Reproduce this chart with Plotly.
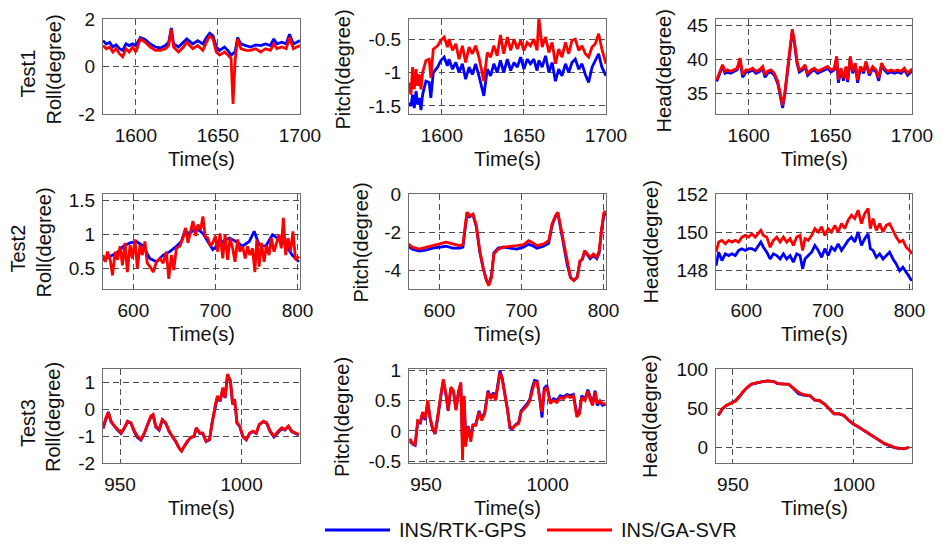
import plotly.graph_objects as go

# ---------------- data ----------------
# Test1 Roll
t1_roll_time = [1580,1582,1584,1586,1588,1590,1592,1594,1596,1598,1600,1602.7,1605.8,1608.8,1612,1615,1618,1620,1621.6,1623,1626,1629,1631,1634.7,1637.7,1640.8,1643,1645,1647,1649,1651,1654,1656,1658,1659.2,1660.5,1662,1664,1667,1670,1673,1676,1679,1682,1684,1686,1689,1691.6,1693.6,1696,1698,1700]
t1_roll_gps = [1.09,0.95,1.02,0.82,0.91,0.75,0.68,0.95,0.88,0.95,0.88,1.22,1.13,0.95,0.82,0.78,0.88,1.02,1.62,0.95,0.82,1.02,1.16,0.95,1.09,0.95,1.22,1.40,1.29,0.82,0.68,0.82,0.68,0.48,0.55,0.62,1.22,0.95,0.88,0.82,0.91,0.88,0.95,0.88,1.16,0.95,1.02,0.95,1.36,0.95,1.02,1.09]
t1_roll_svr = [0.88,0.75,0.82,0.61,0.75,0.54,0.41,0.75,0.61,0.82,0.61,1.16,1.02,0.82,0.68,0.68,0.75,0.88,1.56,0.82,0.61,0.82,1.02,0.75,0.88,0.68,1.02,1.29,1.16,0.61,0.48,0.61,0.48,0.34,-1.58,0.27,1.16,0.75,0.68,0.68,0.75,0.61,0.75,0.68,0.95,0.75,0.82,0.75,1.22,0.75,0.82,0.88]

# Test1 Pitch
t1_pitch_time = [1580,1581.2,1582.2,1583.2,1584.3,1585.3,1586.3,1587.3,1588.3,1590.3,1592.3,1593.3,1594.8,1597.4,1599.4,1601.4,1603.4,1604.4,1606.5,1608.5,1610.5,1612.5,1614.5,1616.6,1618.6,1620.6,1622.6,1625.6,1627.7,1629.7,1631.7,1633.7,1635.7,1637.7,1639.9,1641.9,1644,1646,1648,1650,1652,1654,1656,1658,1659.1,1661.1,1663.2,1665.2,1667.2,1669.2,1671.2,1673.2,1675.3,1677.3,1679.3,1681.3,1683.4,1685.4,1687.4,1689.4,1691.5,1693.5,1695.5,1697.5,1700]
t1_pitch_gps = [-1.45,-1.5,-1.33,-1.53,-1.28,-1.48,-1.38,-1.56,-1.33,-1.13,-1.15,-1.38,-1.0,-0.92,-0.82,-0.77,-0.9,-0.8,-0.95,-0.85,-1.0,-0.87,-1.1,-0.92,-1.03,-0.87,-1.05,-1.35,-0.95,-1.05,-0.87,-1.0,-0.82,-1.0,-0.8,-0.97,-0.85,-0.92,-0.77,-0.95,-0.8,-0.87,-0.8,-0.97,-0.82,-0.92,-0.75,-1.0,-0.85,-1.13,-0.95,-1.05,-0.87,-1.0,-0.85,-0.8,-0.95,-0.87,-1.03,-1.15,-0.92,-0.82,-0.72,-0.92,-1.05]
t1_pitch_svr = [-1.15,-1.33,-0.92,-1.25,-0.95,-1.2,-1.03,-1.25,-1.0,-0.82,-0.8,-1.08,-0.65,-0.6,-0.52,-0.47,-0.62,-0.5,-0.67,-0.57,-0.8,-0.6,-0.85,-0.62,-0.72,-0.6,-0.77,-1.13,-0.7,-0.77,-0.6,-0.75,-0.44,-0.72,-0.47,-0.67,-0.5,-0.65,-0.52,-0.67,-0.55,-0.6,-0.5,-0.67,-0.18,-0.62,-0.47,-0.7,-0.55,-0.87,-0.65,-0.77,-0.55,-0.72,-0.52,-0.5,-0.67,-0.6,-0.72,-0.77,-0.62,-0.57,-0.42,-0.65,-0.87]

# Test1 Head
t1_head_time = [1580.4,1582,1584,1585.5,1587,1589,1591,1593,1594.7,1596.3,1598.4,1600.4,1602.4,1604.5,1606.5,1608.6,1610,1611.6,1613.7,1615.7,1617.8,1619.4,1620.8,1622.2,1623.9,1625.5,1626.7,1628,1629.6,1631,1633,1634.5,1636.1,1638.2,1640.2,1642.2,1644.3,1646.3,1648.4,1650.4,1652.4,1653.9,1654.9,1656.5,1658,1659.6,1660.6,1662.2,1663.7,1665.3,1666.7,1668.4,1670.4,1671.8,1673.9,1675.9,1678,1679.6,1681.4,1683,1685.1,1687.1,1689.2,1691.2,1693.3,1695.3,1697.3,1699.4,1700]
t1_head_gps = [36.8,37.8,39.0,38.0,38.2,38.0,38.2,38.5,40.0,37.4,38.2,38.2,38.5,38.0,38.2,38.7,37.4,38.0,38.2,37.7,36.5,34.5,32.9,35.0,38.5,42.0,44.2,42.5,39.5,38.2,38.5,39.0,37.7,38.2,38.5,38.0,38.2,38.5,38.7,38.2,38.5,40.2,36.6,38.5,36.9,38.7,36.7,40.2,38.0,39.2,36.6,38.7,38.0,39.5,37.7,38.7,38.2,36.9,39.2,38.5,38.0,38.2,38.0,38.2,38.0,38.5,37.7,38.2,38.0]
t1_head_svr = [37.0,38.0,39.25,38.3,38.5,38.3,38.5,38.75,40.25,37.8,38.5,38.5,38.75,38.3,38.5,39.0,37.8,38.3,38.5,38.0,36.8,34.8,33.3,35.3,38.75,42.2,44.5,42.7,39.75,38.5,38.75,39.25,38.0,38.5,38.75,38.3,38.5,38.75,39.0,38.5,38.75,40.5,37.0,38.75,37.3,39.0,37.0,40.5,38.3,39.5,37.0,39.0,38.3,39.75,38.0,39.0,38.5,37.3,39.5,38.75,38.3,38.5,38.3,38.5,38.3,38.75,38.0,38.5,38.3]

# Test2 Roll
t2_roll_time_gps = [563,571.8,579.8,587.9,596,604,612,620,628.2,636.3,644.4,652.4,658.5,662.5,668.5,676.6,684.7,690.7,696.8,702.8,708.9,717,725,733,741.1,747.2,753.2,761.3,769.4,777.4,785.5,793.5,801.6]
t2_roll_gps = [0.63,0.68,0.73,0.83,0.88,0.9,0.83,0.65,0.6,0.7,0.75,0.83,0.9,1.05,1.02,1.1,1.02,0.9,0.78,0.85,0.9,0.95,0.9,0.83,0.9,1.05,0.85,0.83,1.0,0.93,0.85,0.7,0.6]
t2_roll_time_svr = [563,565.8,568.6,571.8,574.6,577.8,580.6,583.9,586.7,589.9,592.7,596,598.8,602,604.8,608.1,610.9,614.1,616.9,620.2,624.2,628.2,632.3,636.3,640.3,643.1,646.4,649.2,652.4,656.5,660.5,663.7,666.5,669.8,672.6,675.8,678.6,681.9,684.7,687.5,690.7,694,696.8,700,702.8,705.6,708.9,711.7,714.9,717.7,721,723.8,727,729.8,733.1,736.3,739.1,741.9,745.2,748,750.4,753.2,756,759.3,762.1,765.3,768.1,771.4,774.2,777.4,780.2,782.7,785.5,788.3,791.5,794.4,797.6,801.6]
t2_roll_svr = [0.7,0.6,0.75,0.63,0.4,0.75,0.63,0.83,0.55,0.88,0.45,0.85,0.65,0.93,0.5,0.85,0.7,0.9,0.58,0.53,0.45,0.6,0.65,0.58,0.75,0.35,0.7,0.48,0.8,0.83,0.95,1.1,0.88,1.05,1.2,0.98,1.15,1.07,1.27,0.98,0.95,0.83,0.88,0.98,0.75,1.02,0.65,1.0,0.63,0.95,0.8,0.6,0.93,0.75,0.83,0.65,0.83,0.7,0.8,0.45,0.93,0.53,0.88,0.6,0.85,0.7,0.95,0.75,0.88,1.0,0.8,1.25,0.7,0.95,0.75,1.05,0.63,0.68]

# Test2 Pitch
t2_pitch_time = [562,567.2,575.4,583.6,591.8,600,608.2,616.4,624.6,628.7,631.6,633.6,636.9,641,645.1,649.2,653.3,657.4,660.2,663.5,666.4,671.7,677.9,686.1,694.3,702.5,708.6,712.7,718.9,727,733.2,737.3,741.4,744.3,747.5,751.6,755.7,759.8,763.9,768,771.3,774.2,777,780.3,783.6,787.7,791.8,794.7,797.5,800,802]
t2_pitch_gps = [-2.75,-2.9,-3.0,-2.95,-2.85,-2.8,-2.75,-2.85,-2.85,-2.8,-1.8,-1.05,-1.2,-1.1,-1.75,-3.05,-3.9,-4.55,-4.75,-4.3,-3.1,-2.85,-2.8,-2.85,-2.9,-2.8,-2.65,-2.7,-2.85,-2.75,-2.6,-1.65,-1.2,-1.0,-1.75,-2.7,-3.7,-4.4,-4.55,-4.35,-3.55,-3.45,-3.0,-3.2,-3.4,-3.25,-3.4,-3.1,-1.9,-1.25,-1.0]
t2_pitch_svr = [-2.63,-2.8,-2.9,-2.8,-2.72,-2.63,-2.54,-2.63,-2.72,-2.67,-1.67,-0.96,-1.14,-1.05,-1.67,-2.98,-3.86,-4.56,-4.82,-4.39,-3.16,-2.9,-2.8,-2.77,-2.72,-2.67,-2.46,-2.54,-2.72,-2.63,-2.46,-1.58,-1.14,-0.96,-1.67,-2.63,-3.68,-4.39,-4.56,-4.39,-3.51,-3.42,-2.98,-3.16,-3.33,-3.16,-3.33,-2.98,-1.75,-1.05,-0.88]

# Test2 Head
t2_head_time = [563,566.3,570.3,574.4,578.5,582.5,586.6,590.7,594.7,598.8,602.8,606.9,611,615,617.9,621.1,625.2,629.3,633.3,637.4,641.5,645.5,649.6,653.7,657.7,661.8,665.9,669.1,672,676,680.1,684.1,688.2,692.3,696.3,700.4,704.5,708.5,712.6,716.7,720.7,724.8,728.9,732.9,737,741.1,745.1,749.2,752,755.3,759.3,763.4,767.5,771.5,775.6,779.7,783.7,787.8,791.9,795.9,800,802.8]
t2_head_gps = [148.23,148.94,148.5,148.85,148.76,148.85,148.76,149.03,149.12,149.03,149.12,149.12,149.03,149.29,149.47,149.2,148.94,148.58,148.85,148.76,148.58,148.85,148.58,148.76,148.41,148.85,148.76,148.05,148.58,148.76,148.94,149.29,149.03,148.67,149.12,148.76,149.2,149.03,149.38,149.03,149.29,149.56,149.73,149.47,150.0,149.29,149.65,149.91,149.12,149.03,148.67,148.85,148.58,148.76,148.94,148.58,148.32,147.96,148.14,147.88,147.61,147.43]
t2_head_svr = [148.94,149.47,149.56,149.38,149.56,149.47,149.56,149.47,149.73,149.82,149.73,149.91,149.73,149.91,150.09,149.82,149.73,149.2,149.56,149.73,149.47,149.73,149.47,149.65,149.29,149.73,149.82,149.03,149.65,149.56,149.82,150.18,150.0,150.27,149.82,150.18,150.0,150.35,150.0,150.44,150.18,150.62,150.88,150.71,151.15,150.44,150.97,151.24,150.18,150.71,150.09,150.44,150.0,150.35,150.44,150.09,149.73,149.47,149.56,149.2,149.03,148.85]

# Test3 Roll
t3_roll_time = [943,944.2,945.2,946.3,947.7,949,950.4,951.8,953.1,954.5,955.9,957.2,958.6,960,961.3,962.7,963.6,964.7,966.1,967.4,968.8,970.2,971.5,972.9,974.3,975.3,976.3,977.6,979,980.4,981.4,982.7,984,985.4,986.8,987.8,989.2,990.1,991.2,992.3,993.2,994.2,995.4,996.3,997.1,998.1,999.2,1000.5,1001.9,1003.3,1004.6,1006,1007.3,1009,1010.3,1011.7,1013.3,1015.1,1016.5,1017.8,1019.2,1020.6,1021.9,1023.5]
t3_roll_gps = [-0.72,-0.36,-0.1,-0.47,-0.64,-0.77,-0.9,-0.7,-0.46,-0.52,-0.84,-1.05,-1.15,-0.9,-0.58,-0.28,-0.22,-0.66,-0.78,-0.4,-0.53,-0.83,-1.02,-1.2,-1.45,-1.55,-1.4,-1.22,-1.05,-1.02,-0.7,-0.9,-0.9,-1.2,-1.14,-0.52,0.17,0.48,0.3,0.78,0.42,1.28,1.04,0.18,0.36,-0.52,-0.64,-1.02,-1.14,-0.9,-0.83,-0.9,-0.56,-0.46,-0.52,-0.83,-1.03,-0.84,-0.72,-0.77,-0.64,-0.83,-0.9,-0.96]
t3_roll_svr = [-0.69,-0.31,-0.12,-0.44,-0.62,-0.75,-0.88,-0.69,-0.44,-0.5,-0.81,-1.0,-1.12,-0.88,-0.56,-0.25,-0.19,-0.62,-0.75,-0.38,-0.5,-0.81,-1.0,-1.19,-1.44,-1.56,-1.38,-1.19,-1.06,-1.0,-0.69,-0.88,-0.88,-1.19,-1.12,-0.5,0.19,0.5,0.31,0.81,0.44,1.31,1.06,0.19,0.38,-0.5,-0.62,-1.0,-1.12,-0.88,-0.81,-0.88,-0.56,-0.44,-0.5,-0.81,-1.0,-0.81,-0.69,-0.75,-0.62,-0.81,-0.88,-0.94]

# Test3 Pitch
t3_pitch_time = [943.4,944.5,945.5,946.6,947.7,948.6,949.6,950.7,951.6,952.7,953.7,954.8,956.1,957.1,958.2,959.1,960.2,961.3,962.3,963.4,964.3,965,965.7,966.3,967.3,968.4,969.3,970.4,971.8,972.9,974.1,975.5,976.6,977.7,978.6,979.6,980.4,981.3,982.4,983.4,984.5,985.4,986.8,988.1,989.1,990.2,991.6,992.7,993.6,994.6,995.7,996.7,997.7,998.6,999.7,1001.1,1002.4,1003.8,1005.2,1006.5,1007.9,1009.3,1010.6,1012,1013.1,1014,1015.4,1016.5,1017.4,1018.5,1019.5,1020.4,1021.5,1022.6,1023.8]
t3_pitch_gps = [-0.17,-0.22,-0.24,0.15,0.13,0.3,0.18,0.47,0.22,0.03,-0.05,0.2,0.58,0.82,0.6,0.33,0.7,0.65,0.36,0.66,0.78,-0.2,0.5,-0.1,0.08,-0.1,0.1,0.1,0.33,0.2,0.3,0.66,0.55,0.63,0.52,0.8,0.99,0.88,0.63,0.38,0.05,0.03,0.1,0.14,0.33,0.38,0.45,0.52,0.7,0.83,0.82,0.55,0.22,0.7,0.75,0.48,0.53,0.5,0.58,0.56,0.6,0.58,0.6,0.28,0.32,0.58,0.52,0.68,0.56,0.45,0.66,0.42,0.48,0.42,0.44]
t3_pitch_svr = [-0.13,-0.21,-0.23,0.17,0.15,0.31,0.2,0.5,0.23,0.04,-0.04,0.23,0.61,0.85,0.61,0.34,0.72,0.66,0.34,0.64,0.8,-0.48,0.58,-0.26,0.07,-0.18,0.09,0.09,0.31,0.17,0.28,0.64,0.53,0.61,0.5,0.77,0.96,0.85,0.61,0.36,0.07,0.04,0.09,0.12,0.31,0.36,0.42,0.5,0.66,0.8,0.8,0.58,0.31,0.66,0.72,0.45,0.5,0.47,0.55,0.53,0.58,0.55,0.58,0.23,0.28,0.55,0.5,0.66,0.53,0.42,0.64,0.45,0.5,0.45,0.45]

# Test3 Head
t3_head_time = [943.9,945.6,947.2,949,951,952.5,953.9,955.6,957.6,959.7,961.7,964.3,967,968.4,971,973,975,977.1,979.1,981.8,983.8,985.8,987.8,989.8,991.8,993.8,995.8,997.9,1000,1001.9,1004.6,1007.3,1010,1012.6,1014.6,1016.7,1018.7,1020.7,1022.7]
t3_head_gps = [40.5,49.0,53.2,56.0,59.5,64.5,70.0,75.5,80.5,82.2,83.5,84.8,84.0,81.3,80.5,80.5,75.2,68.5,66.8,65.8,60.3,59.5,55.3,49.0,42.7,42.7,40.6,34.3,29.2,25.9,20.8,15.3,9.9,4.5,2.0,-0.5,-1.4,-1.8,-0.2]
t3_head_svr = [40.8,49.2,53.4,56.3,58.8,63.9,70.2,75.6,80.7,82.4,83.6,84.9,84.0,81.5,80.7,80.7,75.6,70.2,67.2,66.0,60.5,59.7,55.5,49.2,42.9,42.9,40.8,34.5,29.4,26.1,21.0,15.5,10.1,5.0,2.9,0,-1.3,-1.7,0]

# tick values / labels
x_ticks_t1 = [1600, 1650, 1700]
x_ticks_t2 = [600, 700, 800]
x_ticks_t3 = [950, 1000]
y_ticks = {
    "roll1": ([-2, 0, 2], ["-2", "0", "2"]),
    "pitch1": ([-1.5, -1, -0.5], ["-1.5", "-1", "-0.5"]),
    "head1": ([35, 40, 45], ["35", "40", "45"]),
    "roll2": ([0.5, 1, 1.5], ["0.5", "1", "1.5"]),
    "pitch2": ([-4, -2, 0], ["-4", "-2", "0"]),
    "head2": ([148, 150, 152], ["148", "150", "152"]),
    "roll3": ([-2, -1, 0, 1], ["-2", "-1", "0", "1"]),
    "pitch3": ([-0.5, 0, 0.5, 1], ["-0.5", "0", "0.5", "1"]),
    "head3": ([0, 50, 100], ["0", "50", "100"]),
}
series_names = ["INS/RTK-GPS", "INS/GA-SVR"]
series_colors = ["#0000ff", "#ff0000"]
row_labels = ["Test1", "Test2", "Test3"]
col_labels = ["Roll(degree)", "Pitch(degree)", "Head(degree)"]
x_label = "Time(s)"

# ---------------- layout geometry ----------------
# The page body adds an 8px offset; the figure is sized so the visible
# 942x552 window matches the target layout.
OFF = 8
W, H = 942 - 2 * OFF, 552 - 2 * OFF


def px(xp):
    return (xp - OFF) / W


def py(yp):
    return 1 - (yp - OFF) / H


col_px = [(103, 300), (409, 606), (716, 912)]
row_px = [(19, 114), (194, 289), (369, 463)]

panels = [
    (0, 0, t1_roll_time, t1_roll_gps, t1_roll_time, t1_roll_svr, [1580, 1700], [-2, 2], x_ticks_t1, "roll1"),
    (0, 1, t1_pitch_time, t1_pitch_gps, t1_pitch_time, t1_pitch_svr, [1580, 1700], [-1.62, -0.2], x_ticks_t1, "pitch1"),
    (0, 2, t1_head_time, t1_head_gps, t1_head_time, t1_head_svr, [1580, 1700], [32, 46], x_ticks_t1, "head1"),
    (1, 0, t2_roll_time_gps, t2_roll_gps, t2_roll_time_svr, t2_roll_svr, [563, 803], [0.2, 1.6], x_ticks_t2, "roll2"),
    (1, 1, t2_pitch_time, t2_pitch_gps, t2_pitch_time, t2_pitch_svr, [563, 803], [-5, 0], x_ticks_t2, "pitch2"),
    (1, 2, t2_head_time, t2_head_gps, t2_head_time, t2_head_svr, [563, 803], [147, 152], x_ticks_t2, "head2"),
    (2, 0, t3_roll_time, t3_roll_gps, t3_roll_time, t3_roll_svr, [943, 1024], [-2, 1.5], x_ticks_t3, "roll3"),
    (2, 1, t3_pitch_time, t3_pitch_gps, t3_pitch_time, t3_pitch_svr, [943, 1024], [-0.53, 1.02], x_ticks_t3, "pitch3"),
    (2, 2, t3_head_time, t3_head_gps, t3_head_time, t3_head_svr, [943, 1024], [-20, 100], x_ticks_t3, "head3"),
]

FONT = "Liberation Sans, Arial, sans-serif"
fig = go.Figure()
layout = {}
for i, (r, c, tg, g, ts, s, xr, yr, xt, yk) in enumerate(panels):
    n = i + 1
    xa = "x" if n == 1 else f"x{n}"
    ya = "y" if n == 1 else f"y{n}"
    fig.add_trace(go.Scatter(x=tg, y=g, mode="lines", name=series_names[0],
                             line=dict(color=series_colors[0], width=2.8),
                             xaxis=xa, yaxis=ya, showlegend=False))
    fig.add_trace(go.Scatter(x=ts, y=s, mode="lines", name=series_names[1],
                             line=dict(color=series_colors[1], width=2.8),
                             xaxis=xa, yaxis=ya, showlegend=False))
    x0, x1 = col_px[c]
    y0, y1 = row_px[r]
    common = dict(showline=True, mirror=True, linecolor="#6e6e6e", linewidth=1,
                  showgrid=True, gridcolor="#4d4d4d", griddash="6px,4px", gridwidth=1,
                  zeroline=False, ticks="", automargin=False,
                  tickfont=dict(family=FONT, size=19, color="#111"))
    layout["xaxis" if n == 1 else f"xaxis{n}"] = dict(
        common, domain=[px(x0), px(x1)], range=xr, anchor=ya,
        tickmode="array", tickvals=xt, ticktext=[str(v) for v in xt], ticklabelstandoff=4)
    yv, ytxt = y_ticks[yk]
    layout["yaxis" if n == 1 else f"yaxis{n}"] = dict(
        common, domain=[py(y1), py(y0)], range=yr, anchor=xa,
        tickmode="array", tickvals=yv, ticktext=ytxt, ticklabelstandoff=3)

annotations = []
time_y = [159, 334, 508]
ytitle_x = [[53, 342, 663], [43, 360, 650], [53, 342, 650]]
ytitle_dy = [[2, 2, 4], [0, 0, 0], [0, 0, 0]]
test_x = [28, 17, 28]
for r in range(3):
    yc = (row_px[r][0] + row_px[r][1]) / 2 + 1
    for c in range(3):
        xc = (col_px[c][0] + col_px[c][1]) / 2
        annotations.append(dict(text=x_label, x=px(xc), y=py(time_y[r]), xref="paper", yref="paper",
                                showarrow=False, xanchor="center", yanchor="middle",
                                font=dict(family=FONT, size=20, color="#111")))
        annotations.append(dict(text=col_labels[c], x=px(ytitle_x[r][c]), y=py(yc + ytitle_dy[r][c]),
                                xref="paper", yref="paper",
                                showarrow=False, xanchor="center", yanchor="middle", textangle=-90,
                                font=dict(family=FONT, size=20, color="#111")))
    annotations.append(dict(text=row_labels[r], x=px(test_x[r]), y=py(yc + 6), xref="paper", yref="paper",
                            showarrow=False, xanchor="center", yanchor="middle", textangle=-90,
                            font=dict(family=FONT, size=20, color="#111")))

# legend key (line samples + labels below the grid)
legend_y = 530
legend_keys = [(325, 390, 398), (547, 612, 620)]  # line start, line end, label start (px)
shapes = []
for (lx0, lx1, tx), name, col in zip(legend_keys, series_names, series_colors):
    shapes.append(dict(type="line", xref="paper", yref="paper",
                       x0=px(lx0), x1=px(lx1), y0=py(legend_y), y1=py(legend_y),
                       line=dict(color=col, width=2.8)))
    annotations.append(dict(text=name, x=px(tx), y=py(legend_y), xref="paper", yref="paper",
                            showarrow=False, xanchor="left", yanchor="middle", borderpad=0,
                            font=dict(family=FONT, size=20, color="#111")))

fig.update_layout(
    **layout,
    annotations=annotations,
    shapes=shapes,
    width=W, height=H,
    margin=dict(l=0, r=0, t=0, b=0, autoexpand=False),
    paper_bgcolor="white", plot_bgcolor="white",
    showlegend=False,
)
fig.write_html("out.html")
